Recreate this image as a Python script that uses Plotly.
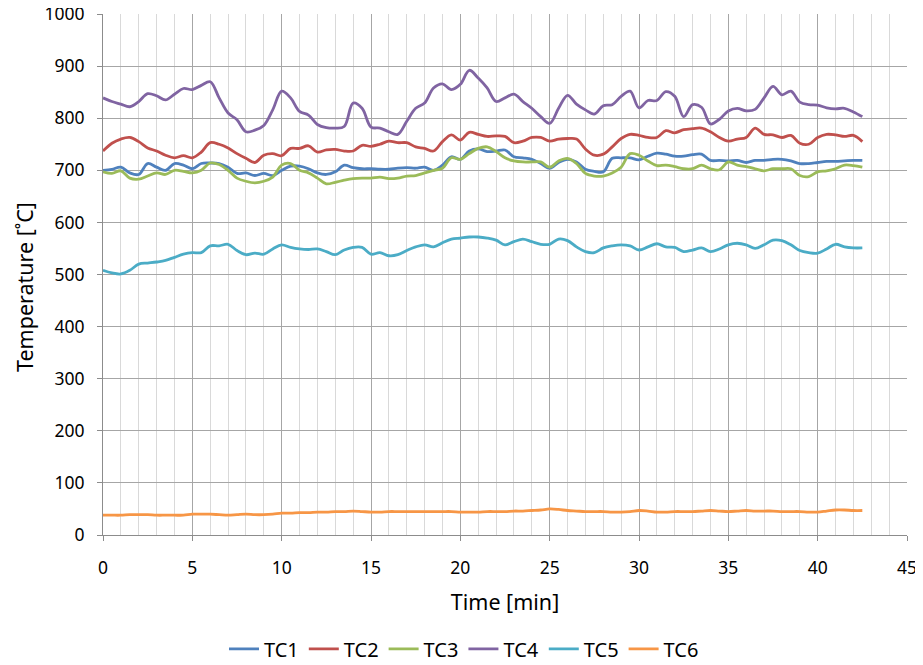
import plotly.graph_objects as go

time_min = [i * 0.5 for i in range(86)]

tc1 = [700,702,706,695,692,713,706,700,713,710,703,713,714,713,706,694,695,690,694,690,700,708,708,703,695,692,697,710,705,703,
       703,702,702,704,705,704,706,700,710,726,721,737,741,736,737,739,726,724,721,713,704,715,721,716,702,698,697,723,724,724,
       720,727,733,731,727,727,730,731,719,719,718,719,715,719,719,721,721,718,713,713,715,717,717,718,719,719]
tc2 = [737,752,760,763,755,743,737,729,724,728,724,735,753,750,743,732,723,715,729,732,728,742,742,747,735,739,740,737,737,748,
       746,750,756,753,753,745,742,737,755,768,758,773,769,765,766,765,753,756,763,763,756,760,761,760,741,729,731,745,761,769,
       767,763,763,776,772,778,780,781,774,763,756,760,763,781,769,768,763,767,752,750,763,769,768,765,767,755]
tc3 = [697,694,699,685,683,689,695,692,700,698,695,700,714,711,700,685,679,676,679,687,710,713,700,695,685,674,677,681,684,685,
       685,687,684,685,689,690,695,700,704,724,721,732,742,745,736,724,718,716,716,716,706,718,723,713,694,689,689,695,706,732,
       729,718,709,710,707,703,703,710,703,701,716,710,707,703,699,703,703,703,690,688,697,699,703,710,709,706]
tc4 = [839,832,827,822,832,847,843,835,846,857,855,863,870,839,810,797,774,777,786,816,852,839,813,806,788,782,781,784,829,819,
       783,781,774,769,794,819,829,858,866,855,865,892,877,858,832,839,846,832,819,803,790,819,844,827,816,808,824,826,842,852,
       820,834,834,851,842,803,826,821,789,798,814,819,814,817,839,861,845,852,831,826,825,820,818,819,812,803]
tc5 = [508,503,501,508,520,522,524,527,533,539,542,542,555,555,558,546,538,541,539,549,557,552,549,548,549,544,538,547,552,552,
       539,542,536,538,546,553,557,553,561,568,570,572,572,570,566,557,563,568,563,558,558,568,565,553,544,542,551,555,557,555,
       547,553,559,553,552,544,547,551,544,549,557,560,557,550,557,566,565,557,546,542,541,549,558,553,551,551]
tc6 = [38,38,38,39,39,39,38,38,38,38,40,40,40,39,38,39,40,39,39,40,42,42,43,43,44,44,45,45,46,45,
       44,44,45,45,45,45,45,45,45,45,44,44,44,45,45,45,46,46,47,48,50,49,47,46,45,45,45,44,44,45,
       47,46,44,44,45,45,45,46,47,46,45,46,47,46,46,46,45,45,45,44,44,46,48,48,47,47]

names = ["TC1", "TC2", "TC3", "TC4", "TC5", "TC6"]
series = [tc1, tc2, tc3, tc4, tc5, tc6]
colors = ["#4F81BD", "#C0504D", "#9BBB59", "#8064A2", "#4BACC6", "#F79646"]

fig = go.Figure()
for n, s, c in zip(names, series, colors):
    fig.add_trace(go.Scatter(x=time_min, y=s, name=n, mode="lines",
                             line=dict(color=c, width=2.8, shape="spline", smoothing=1.0)))

font_family = "Noto Sans, Open Sans, sans-serif"
# page body adds an 8px margin, so the figure is sized to fit the 923x665 window
fig.update_layout(
    width=915, height=657,
    margin=dict(l=95, r=16, t=6, b=130, autoexpand=False),
    paper_bgcolor="white", plot_bgcolor="white",
    font=dict(family=font_family, size=17.5, color="black"),
    legend=dict(orientation="h", xref="paper", yref="paper",
                x=0.449, xanchor="center", y=-0.2185, yanchor="middle",
                font=dict(size=20), itemwidth=30, tracegroupgap=0),
    showlegend=True,
)
fig.update_xaxes(
    range=[0, 45], tick0=0, dtick=5, showgrid=True, gridcolor="#a6a6a6", gridwidth=1,
    minor=dict(dtick=1, showgrid=True, gridcolor="#d9d9d9", gridwidth=1),
    ticks="outside", ticklen=5, tickcolor="#8c8c8c", ticklabelstandoff=12,
    ticklabeloverflow="allow",
    showline=True, linecolor="#8c8c8c", linewidth=1, zeroline=False, automargin=False,
    title=dict(text="Time [min]", font=dict(size=21.5), standoff=16),
)
fig.update_yaxes(
    range=[0, 1000], tick0=0, dtick=100, showgrid=True, gridcolor="#a6a6a6", gridwidth=1,
    ticks="outside", ticklen=5, tickcolor="#8c8c8c", ticklabelstandoff=9,
    ticklabeloverflow="allow",
    showline=True, linecolor="#8c8c8c", linewidth=1, zeroline=False, automargin=False,
)
fig.add_annotation(text="Temperature [˚C]", textangle=-90, showarrow=False,
                   xref="paper", yref="paper", x=0, y=0.476, xshift=-79,
                   xanchor="center", yanchor="middle", font=dict(size=21.5))

fig.write_html("out.html")
